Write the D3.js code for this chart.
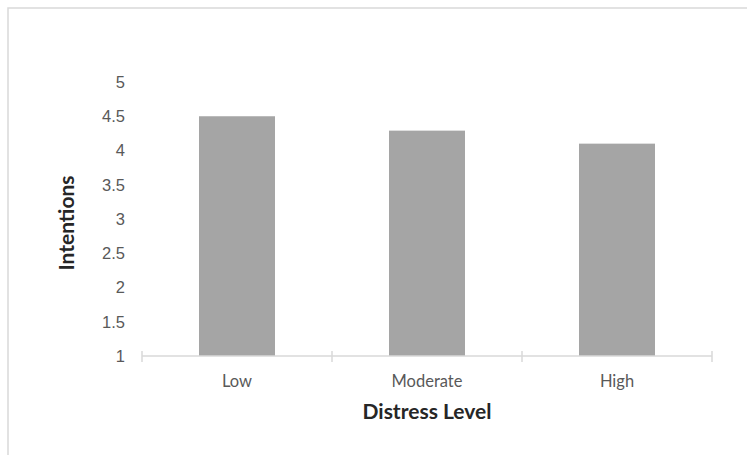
<!DOCTYPE html>
<html>
<head>
<meta charset="utf-8">
<script src="https://cdn.jsdelivr.net/npm/d3@7"></script>
<style>
  html, body { margin: 0; padding: 0; background: #fff; }
  svg { display: block; font-family: Lato, "Open Sans", sans-serif; }
</style>
</head>
<body>
<div id="chart"></div>
<script>
const categories = ["Low", "Moderate", "High"];
const intentions = [4.5, 4.29, 4.1];
const yTickValues = [1, 1.5, 2, 2.5, 3, 3.5, 4, 4.5, 5];
const yTickLabels = ["1", "1.5", "2", "2.5", "3", "3.5", "4", "4.5", "5"];

const width = 747;
const height = 455;
const margin = { top: 82, right: 35, bottom: 99, left: 142 };

const svg = d3.select("#chart")
  .append("svg")
  .attr("width", width)
  .attr("height", height);

// chart frame (runs off the right and bottom edges)
svg.append("rect")
  .attr("x", 8)
  .attr("y", 8)
  .attr("width", width + 20)
  .attr("height", height + 20)
  .attr("fill", "#fff")
  .attr("stroke", "#d9d9d9")
  .attr("stroke-width", 1.5);

const xScale = d3.scaleBand()
  .domain(categories)
  .range([margin.left, width - margin.right])
  .paddingInner(0.6)
  .paddingOuter(0.3);

const yScale = d3.scaleLinear()
  .domain([1, 5])
  .range([height - margin.bottom, margin.top]);

// y tick labels (no axis line, no gridlines)
const yAxis = d3.axisLeft(yScale)
  .tickValues(yTickValues)
  .tickFormat((d, i) => yTickLabels[i])
  .tickSize(0)
  .tickPadding(17);

const yG = svg.append("g")
  .attr("transform", `translate(${margin.left}, 0)`)
  .call(yAxis);
yG.select(".domain").remove();
yG.selectAll("text")
  .attr("fill", "#595959")
  .attr("font-size", 16.5);

// bars
svg.append("g")
  .selectAll("rect")
  .data(intentions)
  .enter()
  .append("rect")
  .attr("x", (d, i) => xScale(categories[i]))
  .attr("y", (d) => yScale(d))
  .attr("width", xScale.bandwidth())
  .attr("height", (d) => yScale(1) - yScale(d))
  .attr("fill", "#a5a5a5");

// x axis line with boundary ticks between categories
const xEdge = d3.scaleLinear()
  .domain([0, categories.length])
  .range([margin.left, width - margin.right]);
const axisY = yScale(1);

svg.append("line")
  .attr("x1", xEdge(0))
  .attr("x2", xEdge(categories.length))
  .attr("y1", axisY)
  .attr("y2", axisY)
  .attr("stroke", "#d9d9d9")
  .attr("stroke-width", 1.5);

svg.append("g")
  .selectAll("line")
  .data(d3.range(categories.length + 1))
  .enter()
  .append("line")
  .attr("x1", (d) => xEdge(d))
  .attr("x2", (d) => xEdge(d))
  .attr("y1", axisY - 5)
  .attr("y2", axisY + 6)
  .attr("stroke", "#d9d9d9")
  .attr("stroke-width", 1.5);

svg.append("g")
  .selectAll("text")
  .data(categories)
  .enter()
  .append("text")
  .attr("x", (d) => xScale(d) + xScale.bandwidth() / 2)
  .attr("y", axisY + 31)
  .attr("text-anchor", "middle")
  .attr("fill", "#595959")
  .attr("font-size", 16.5)
  .text((d) => d);

// axis titles
svg.append("text")
  .attr("x", (margin.left + width - margin.right) / 2)
  .attr("y", 419)
  .attr("text-anchor", "middle")
  .attr("font-size", 21)
  .attr("font-weight", "bold")
  .attr("fill", "#262626")
  .text("Distress Level");

svg.append("text")
  .attr("transform", "rotate(-90)")
  .attr("x", -(margin.top + height - margin.bottom) / 2 - 4)
  .attr("y", 74)
  .attr("text-anchor", "middle")
  .attr("font-size", 21)
  .attr("font-weight", "bold")
  .attr("fill", "#262626")
  .text("Intentions");
</script>
</body>
</html>
